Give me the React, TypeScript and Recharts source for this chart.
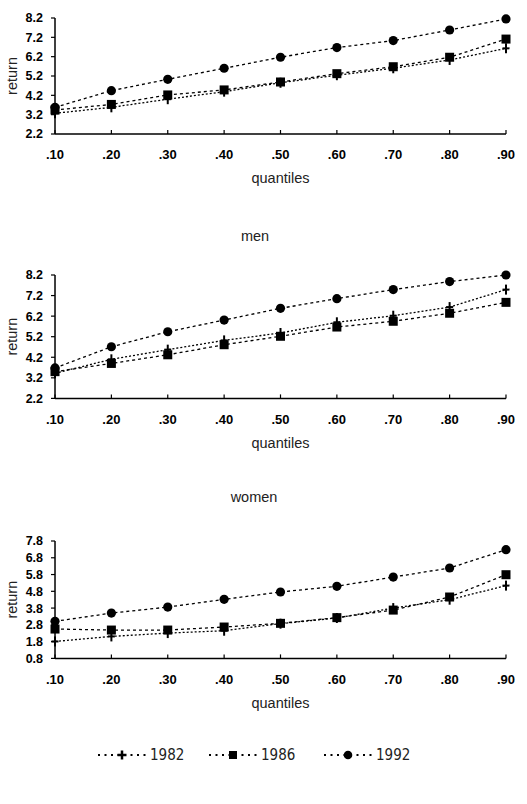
import React from 'react';
import { LineChart, Line, XAxis, YAxis } from 'recharts';

const quantiles = ['.10', '.20', '.30', '.40', '.50', '.60', '.70', '.80', '.90'];
const seriesNames = ['1982', '1986', '1992'];

const all1982 = [3.27, 3.58, 4.0, 4.39, 4.85, 5.24, 5.6, 6.03, 6.63];
const all1986 = [3.44, 3.73, 4.22, 4.48, 4.89, 5.32, 5.68, 6.17, 7.11];
const all1992 = [3.58, 4.44, 5.03, 5.6, 6.17, 6.67, 7.03, 7.58, 8.15];

const men1982 = [3.42, 4.1, 4.57, 5.02, 5.38, 5.9, 6.22, 6.64, 7.49];
const men1986 = [3.5, 3.9, 4.32, 4.81, 5.22, 5.67, 5.95, 6.34, 6.87];
const men1992 = [3.68, 4.71, 5.44, 6.01, 6.58, 7.05, 7.49, 7.88, 8.2];

const women1982 = [1.81, 2.11, 2.31, 2.45, 2.87, 3.21, 3.8, 4.3, 5.14];
const women1986 = [2.55, 2.49, 2.49, 2.67, 2.89, 3.23, 3.68, 4.46, 5.79];
const women1992 = [3.01, 3.5, 3.86, 4.32, 4.76, 5.1, 5.65, 6.19, 7.28];

const ticksUpper = [2.2, 3.2, 4.2, 5.2, 6.2, 7.2, 8.2];
const ticksWomen = [0.8, 1.8, 2.8, 3.8, 4.8, 5.8, 6.8, 7.8];

const build = (a: number[], b: number[], c: number[]) =>
  quantiles.map((q, i) => ({ q, s1982: a[i], s1986: b[i], s1992: c[i] }));

const dataAll = build(all1982, all1986, all1992);
const dataMen = build(men1982, men1986, men1992);
const dataWomen = build(women1982, women1986, women1992);

const FONT = '"Liberation Sans", Arial, sans-serif';

const PlusDot = (p: any) => {
  const { cx, cy } = p;
  if (cx == null || cy == null) return null;
  return (
    <g key={p.key ?? `p${p.index}`}>
      <line x1={cx} y1={cy - 5} x2={cx} y2={cy + 5} stroke="#000" strokeWidth={2} />
      <line x1={cx - 3.5} y1={cy} x2={cx + 3.5} y2={cy} stroke="#000" strokeWidth={2} />
    </g>
  );
};

const SquareDot = (p: any) => {
  const { cx, cy } = p;
  if (cx == null || cy == null) return null;
  return <rect key={p.key ?? `s${p.index}`} x={cx - 4.5} y={cy - 4.5} width={9} height={9} fill="#000" />;
};

const CircleDot = (p: any) => {
  const { cx, cy } = p;
  if (cx == null || cy == null) return null;
  return <circle key={p.key ?? `c${p.index}`} cx={cx} cy={cy} r={4.6} fill="#000" />;
};

type PanelProps = {
  top: number;
  plotH: number;
  data: any[];
  domain: [number, number];
  ticks: number[];
};

const Panel = ({ top, plotH, data, domain, ticks }: PanelProps) => {
  const height = 18 + plotH + 62 + 4;
  const tickStyle = { fill: '#000', fontSize: 13, fontWeight: 'bold', fontFamily: FONT } as any;
  return (
    <div style={{ position: 'absolute', left: 0, top: top - 18 }}>
      <LineChart width={527} height={height} data={data} margin={{ top: 18, right: 21, bottom: 4, left: 0 }}>
        <XAxis
          dataKey="q"
          height={62}
          interval={0}
          tickSize={-4}
          tickMargin={20}
          axisLine={{ stroke: '#000', strokeWidth: 1.5 }}
          tickLine={{ stroke: '#000', strokeWidth: 1.2 }}
          tick={tickStyle}
          label={{
            value: 'quantiles',
            position: 'insideTop',
            offset: 39,
            style: { fill: '#222', fontSize: 14.5, fontFamily: FONT, textAnchor: 'middle' },
          }}
        />
        <YAxis
          type="number"
          domain={domain}
          ticks={ticks}
          width={55}
          interval={0}
          tickSize={4}
          tickMargin={8}
          allowDataOverflow={false}
          axisLine={{ stroke: '#000', strokeWidth: 1.5 }}
          tickLine={{ stroke: '#000', strokeWidth: 1.2 }}
          tick={{ ...tickStyle, fontSize: 12.5 }}
          label={{
            value: 'return',
            angle: -90,
            position: 'insideLeft',
            offset: 12,
            style: { fill: '#222', fontSize: 14.5, fontFamily: FONT, textAnchor: 'middle' },
          }}
        />
        <Line
          dataKey="s1982"
          name={seriesNames[0]}
          stroke="#000"
          strokeWidth={1.3}
          strokeDasharray="2 2"
          dot={PlusDot}
          isAnimationActive={false}
        />
        <Line
          dataKey="s1986"
          name={seriesNames[1]}
          stroke="#000"
          strokeWidth={1.3}
          strokeDasharray="3 3"
          dot={SquareDot}
          isAnimationActive={false}
        />
        <Line
          dataKey="s1992"
          name={seriesNames[2]}
          stroke="#000"
          strokeWidth={1.3}
          strokeDasharray="3 3"
          dot={CircleDot}
          isAnimationActive={false}
        />
      </LineChart>
    </div>
  );
};

const Title = ({ text, x, y }: { text: string; x: number; y: number }) => (
  <div
    style={{
      position: 'absolute',
      left: x - 60,
      top: y - 10,
      width: 120,
      height: 20,
      lineHeight: '20px',
      textAlign: 'center',
      fontFamily: FONT,
      fontSize: 14.5,
      color: '#222',
    }}
  >
    {text}
  </div>
);

const legendMarkers = ['plus', 'square', 'circle'];
const legendX = [122, 233, 348];

const LegendMarker = ({ kind, cx, cy }: { kind: string; cx: number; cy: number }) => {
  if (kind === 'plus')
    return (
      <g>
        <line x1={cx} y1={cy - 4.5} x2={cx} y2={cy + 4.5} stroke="#000" strokeWidth={2.5} />
        <line x1={cx - 4.5} y1={cy} x2={cx + 4.5} y2={cy} stroke="#000" strokeWidth={2.5} />
      </g>
    );
  if (kind === 'square') return <rect x={cx - 4} y={cy - 4} width={8} height={8} fill="#000" />;
  return <circle cx={cx} cy={cy} r={4.3} fill="#000" />;
};

const LegendBox = () => {
  const cy = 755;
  return (
    <svg style={{ position: 'absolute', left: 0, top: 0 }} width={527} height={804}>
      {seriesNames.map((name, i) => {
        const cx = legendX[i];
        return (
          <g key={name}>
            <line x1={cx - 24} y1={cy} x2={cx + 26} y2={cy} stroke="#000" strokeWidth={2.2} strokeDasharray="2 4.5" />
            <LegendMarker kind={legendMarkers[i]} cx={cx} cy={cy} />
            <text
              x={cx + 28}
              y={cy}
              dominantBaseline="central"
              fontFamily='"Liberation Sans Narrow", "DejaVu Sans Condensed", sans-serif'
              fontSize={15}
              fill="#222"
            >
              {name}
            </text>
          </g>
        );
      })}
    </svg>
  );
};

export default function App() {
  return (
    <div style={{ position: 'absolute', left: 0, top: 0, width: 527, height: 804, background: '#fff' }}>
      <LegendBox />
      <Panel top={18} plotH={116} data={dataAll} domain={[2.2, 8.2]} ticks={ticksUpper} />
      <Title text="men" x={255} y={236} />
      <Panel top={275.3} plotH={123.4} data={dataMen} domain={[2.2, 8.2]} ticks={ticksUpper} />
      <Title text="women" x={254} y={497} />
      <Panel top={541.3} plotH={117.4} data={dataWomen} domain={[0.8, 7.8]} ticks={ticksWomen} />
    </div>
  );
}
